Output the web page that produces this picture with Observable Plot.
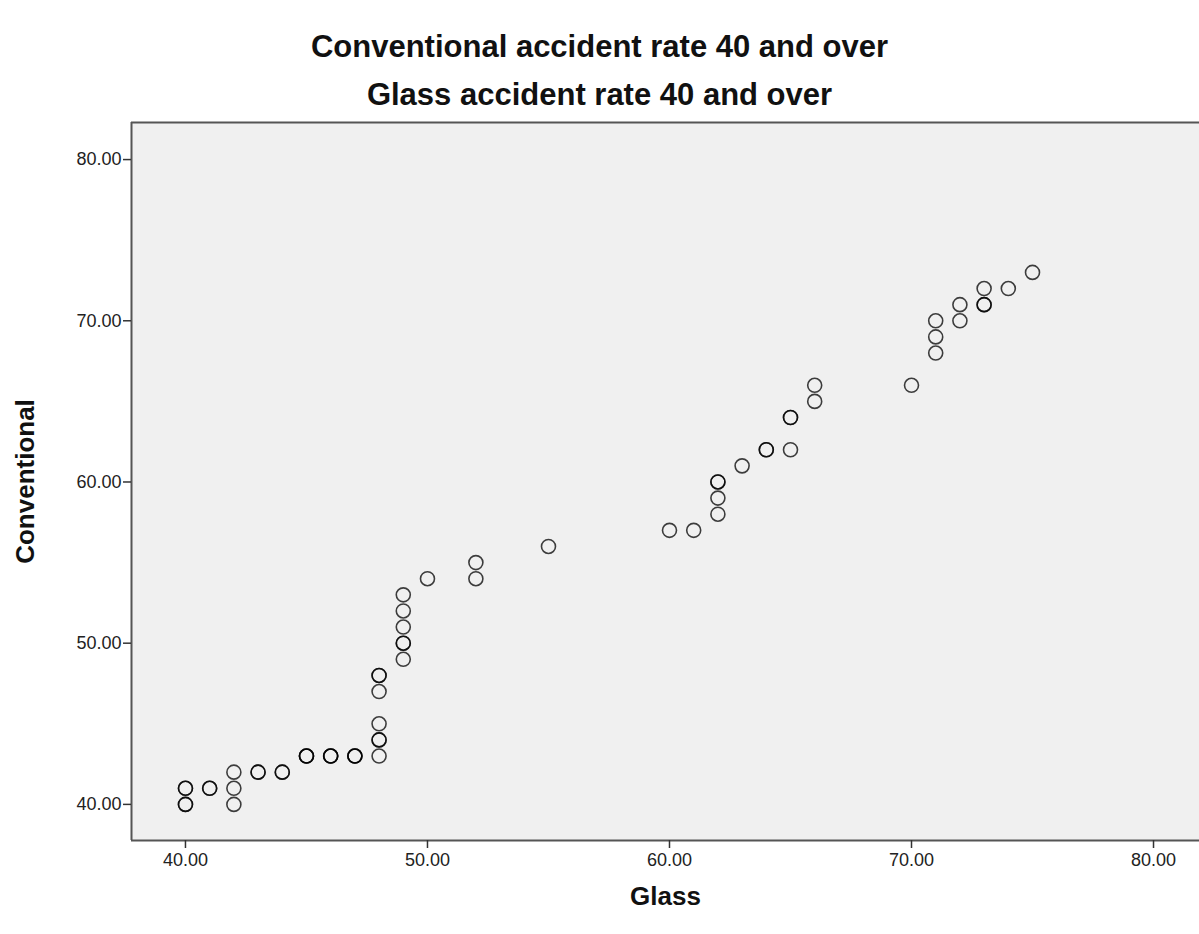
<!DOCTYPE html>
<html><head><meta charset="utf-8">
<script src="https://cdn.jsdelivr.net/npm/d3@7"></script>
<script src="https://cdn.jsdelivr.net/npm/@observablehq/plot@0.6"></script>
<style>
html,body{margin:0;padding:0;background:#fff;overflow:hidden;}
#wrap{position:relative;width:1199px;height:934px;font-family:"Liberation Sans",Arial,sans-serif;overflow:hidden;}
.title{position:absolute;left:0;width:1199px;text-align:center;font-weight:bold;font-size:31px;color:#111;line-height:1;}
</style></head><body>
<div id="wrap">
<div class="title" style="top:31px">Conventional accident rate 40 and over</div>
<div class="title" style="top:79px">Glass accident rate 40 and over</div>
<div id="chart" style="position:absolute;left:0;top:110px;"></div>
</div>
<script>
const glass =        [40,40,40,40,41,41,42,42,42,43,43,44,44,45,45,45,46,46,46,47,47,47,48,48,48,48,48,48,48,49,49,49,49,49,49,50,52,52,55,60,61,62,62,62,62,63,64,64,65,65,65,66,66,70,71,71,71,72,72,73,73,73,74,75];
const conventional = [40,40,41,41,41,41,40,41,42,42,42,42,42,43,43,43,43,43,43,43,43,43,43,44,44,45,47,48,48,49,50,50,51,52,53,54,54,55,56,57,57,58,59,60,60,61,62,62,62,64,64,65,66,66,68,69,70,70,71,71,71,72,72,73];
const xTicks = [40, 50, 60, 70, 80];
const yTicks = [40, 50, 60, 70, 80];
const xLabel = ["Glass"];
const yLabel = ["Conventional"];
const xDomain = [37.77, 81.9];
const yDomain = [37.76, 82.3];

const data = glass.map((g, i) => ({glass: g, conventional: conventional[i]}));
const fmt = d3.format(".2f");
const plot = Plot.plot({
  width: 1199, height: 824,
  marginLeft: 131, marginRight: 0, marginTop: 12, marginBottom: 94,
  style: {fontFamily: '"Liberation Sans", Arial, sans-serif', fontSize: "18px", color: "#222", background: "transparent", overflow: "visible"},
  x: {domain: xDomain},
  y: {domain: yDomain},
  marks: [
    Plot.frame({fill: "#f0f0f0", stroke: null}),
    Plot.ruleX([xDomain[0]], {stroke: "#555", strokeWidth: 2}),
    Plot.ruleY(yDomain, {stroke: "#555", strokeWidth: 2}),
    Plot.axisX({ticks: xTicks, tickFormat: fmt, tickSize: 8, tickPadding: 5, label: null, stroke: "#333", strokeWidth: 1.5}),
    Plot.axisY({ticks: yTicks, tickFormat: fmt, tickSize: 8, tickPadding: 2, label: null, stroke: "#333", strokeWidth: 1.5}),
    Plot.dot(data, {x: "glass", y: "conventional", r: 7, stroke: "#000", strokeOpacity: 0.75, strokeWidth: 1.6, fill: "none"}),
    Plot.text(xLabel, {frameAnchor: "bottom", dy: 64, fontWeight: "bold", fontSize: 26, fill: "#111", text: d => d}),
    Plot.text(yLabel, {frameAnchor: "left", textAnchor: "middle", dx: -106, rotate: -90, fontWeight: "bold", fontSize: 26, fill: "#111", text: d => d})
  ]
});
document.getElementById("chart").appendChild(plot);
</script>
</body></html>
